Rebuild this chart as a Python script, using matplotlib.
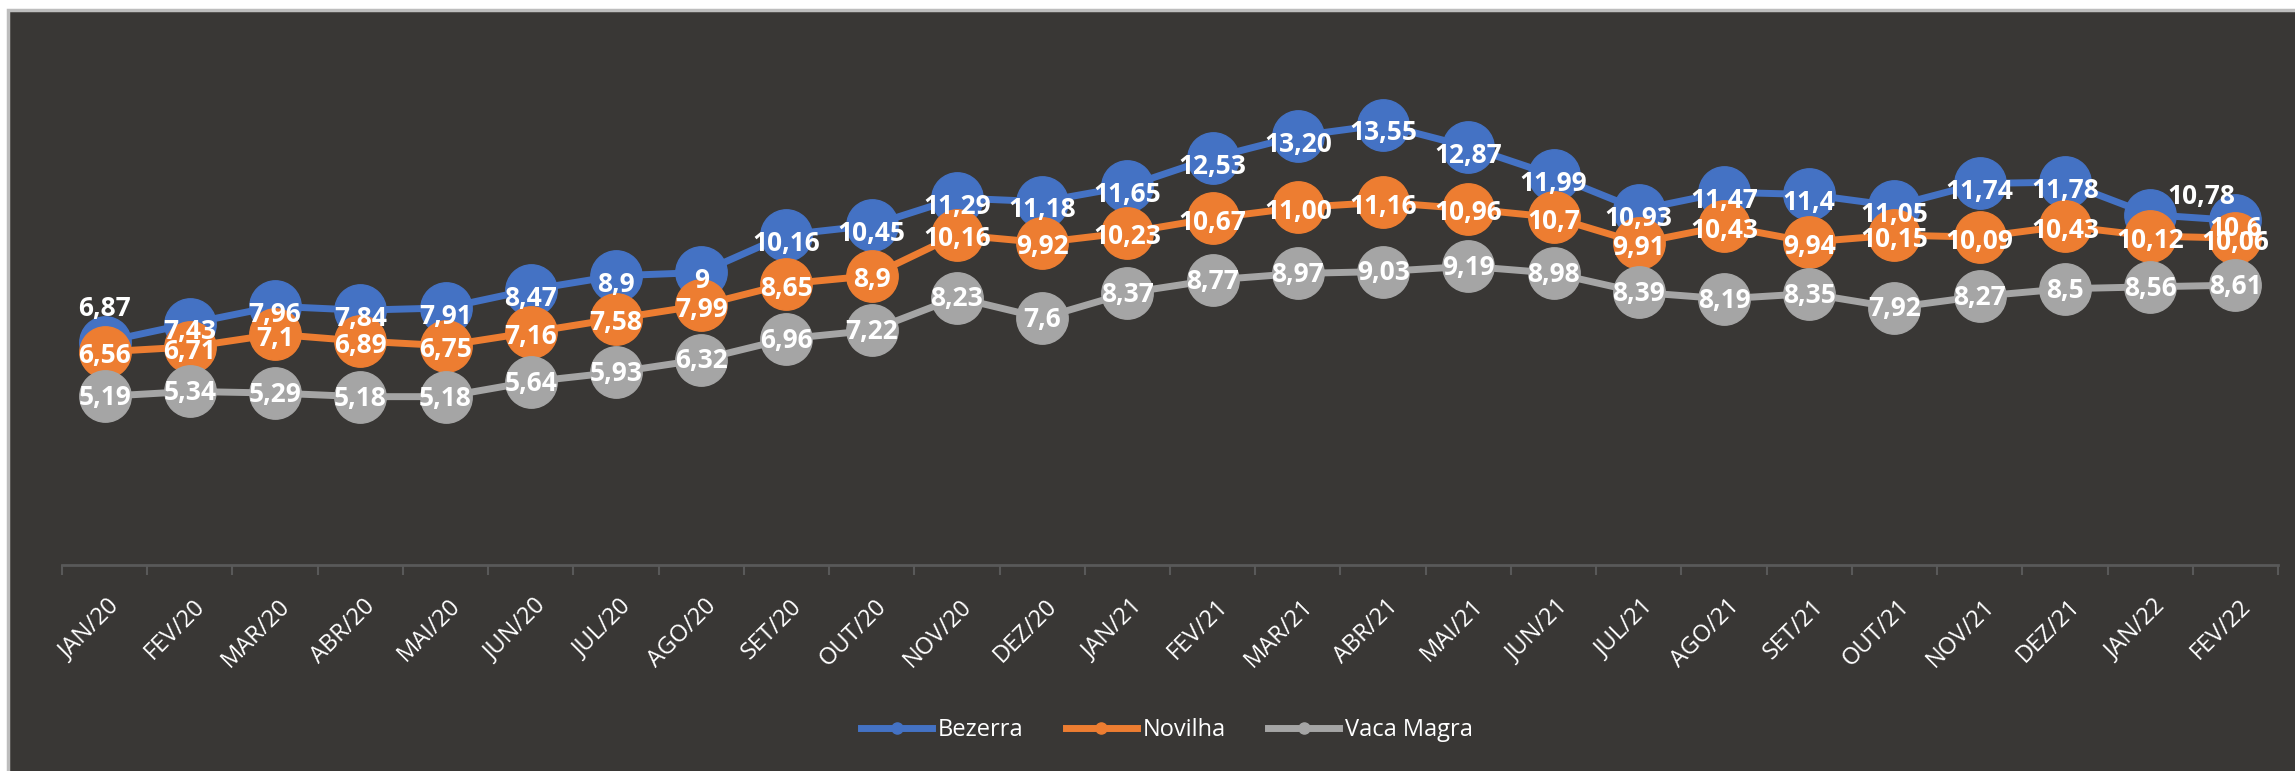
import matplotlib
matplotlib.use("Agg")
import matplotlib.pyplot as plt
from matplotlib.patches import Rectangle
from matplotlib.lines import Line2D
from matplotlib.transforms import ScaledTranslation
import numpy as np

months = ["JAN/20", "FEV/20", "MAR/20", "ABR/20", "MAI/20", "JUN/20", "JUL/20", "AGO/20",
          "SET/20", "OUT/20", "NOV/20", "DEZ/20", "JAN/21", "FEV/21", "MAR/21", "ABR/21",
          "MAI/21", "JUN/21", "JUL/21", "AGO/21", "SET/21", "OUT/21", "NOV/21", "DEZ/21",
          "JAN/22", "FEV/22"]

bezerra = [6.87, 7.43, 7.96, 7.84, 7.91, 8.47, 8.9, 9, 10.16, 10.45, 11.29, 11.18, 11.65,
           12.53, 13.20, 13.55, 12.87, 11.99, 10.93, 11.47, 11.4, 11.05, 11.74, 11.78, 10.78, 10.6]
novilha = [6.56, 6.71, 7.1, 6.89, 6.75, 7.16, 7.58, 7.99, 8.65, 8.9, 10.16, 9.92, 10.23,
           10.67, 11.00, 11.16, 10.96, 10.7, 9.91, 10.43, 9.94, 10.15, 10.09, 10.43, 10.12, 10.06]
vaca_magra = [5.19, 5.34, 5.29, 5.18, 5.18, 5.64, 5.93, 6.32, 6.96, 7.22, 8.23, 7.6, 8.37,
              8.77, 8.97, 9.03, 9.19, 8.98, 8.39, 8.19, 8.35, 7.92, 8.27, 8.5, 8.56, 8.61]

bezerra_labels = ["6,87", "7,43", "7,96", "7,84", "7,91", "8,47", "8,9", "9", "10,16", "10,45",
                  "11,29", "11,18", "11,65", "12,53", "13,20", "13,55", "12,87", "11,99", "10,93",
                  "11,47", "11,4", "11,05", "11,74", "11,78", "10,78", "10,6"]
novilha_labels = ["6,56", "6,71", "7,1", "6,89", "6,75", "7,16", "7,58", "7,99", "8,65", "8,9",
                  "10,16", "9,92", "10,23", "10,67", "11,00", "11,16", "10,96", "10,7", "9,91",
                  "10,43", "9,94", "10,15", "10,09", "10,43", "10,12", "10,06"]
vaca_labels = ["5,19", "5,34", "5,29", "5,18", "5,18", "5,64", "5,93", "6,32", "6,96", "7,22",
               "8,23", "7,6", "8,37", "8,77", "8,97", "9,03", "9,19", "8,98", "8,39", "8,19",
               "8,35", "7,92", "8,27", "8,5", "8,56", "8,61"]

series_names = ["Bezerra", "Novilha", "Vaca Magra"]
colors = ["#4472C4", "#ED7D31", "#A5A5A5"]
FONT = ["Open Sans", "DejaVu Sans"]

W, H = 2295, 771
fig = plt.figure(figsize=(W / 100, H / 100), dpi=100)
fig.patch.set_facecolor("white")
bg = Rectangle((8 / W, -0.01), 1.0, 1 - 10 / H + 0.01, transform=fig.transFigure,
               facecolor="#393735", edgecolor="#BDBDBD", linewidth=2.5, zorder=-10)
fig.patches.append(bg)

ax = fig.add_axes([62 / W, 1 - 565 / H, (2278 - 62) / W, (565 - 45) / H])
ax.set_facecolor("none")
ax.set_xlim(-0.5, 25.5)
ax.set_ylim(0, 16)
for s in ["top", "right", "left"]:
    ax.spines[s].set_visible(False)
ax.spines["bottom"].set_color("#595959")
ax.spines["bottom"].set_linewidth(2)
ax.set_yticks([])

x = np.arange(len(months))
ax.set_xticks(x)
ax.set_xticklabels(months, rotation=45, ha="right", va="top", color="white",
                   fontsize=17, family=FONT)
ax.tick_params(axis="x", which="major", length=0, pad=21)
shift = ScaledTranslation(20 / 100, 0, fig.dpi_scale_trans)
for lbl in ax.get_xticklabels():
    lbl.set_transform(lbl.get_transform() + shift)
ax.set_xticks(np.arange(-0.5, len(months), 1), minor=True)
ax.tick_params(axis="x", which="minor", length=7, width=1.5, color="#595959")

data = [bezerra, novilha, vaca_magra]
labels = [bezerra_labels, novilha_labels, vaca_labels]
base_dy = [-6, -3, -1]

for k, (vals, c) in enumerate(zip(data, colors)):
    ax.plot(x, vals, color=c, lw=5, marker="o", ms=37, mfc=c, mec=c,
            solid_joinstyle="round", zorder=2 + k, clip_on=False)

for k, (vals, lab) in enumerate(zip(data, labels)):
    for i, (v, t) in enumerate(zip(vals, lab)):
        dx, dy = 0, base_dy[k]
        if k == 0 and i == 0:
            dy = 24
        if k == 0 and i == 24:
            dx, dy = 37, 13
        ax.annotate(t, (i, v), xytext=(dx, dy), textcoords="offset points",
                    ha="center", va="center", color="white", fontsize=19,
                    fontweight="bold", family=FONT, zorder=10, annotation_clip=False)

handles = [Line2D([], [], color=c, lw=5, marker="o", ms=8, mfc=c, mec=c) for c in colors]
leg = ax.legend(handles, series_names, loc="center", bbox_to_anchor=(0.5085, 0.053),
                bbox_transform=fig.transFigure, ncol=3, frameon=False,
                labelcolor="white", handlelength=3.0, handletextpad=0.25, columnspacing=1.8,
                prop={"family": FONT, "size": 17})

fig.savefig("out.png", dpi=100)
